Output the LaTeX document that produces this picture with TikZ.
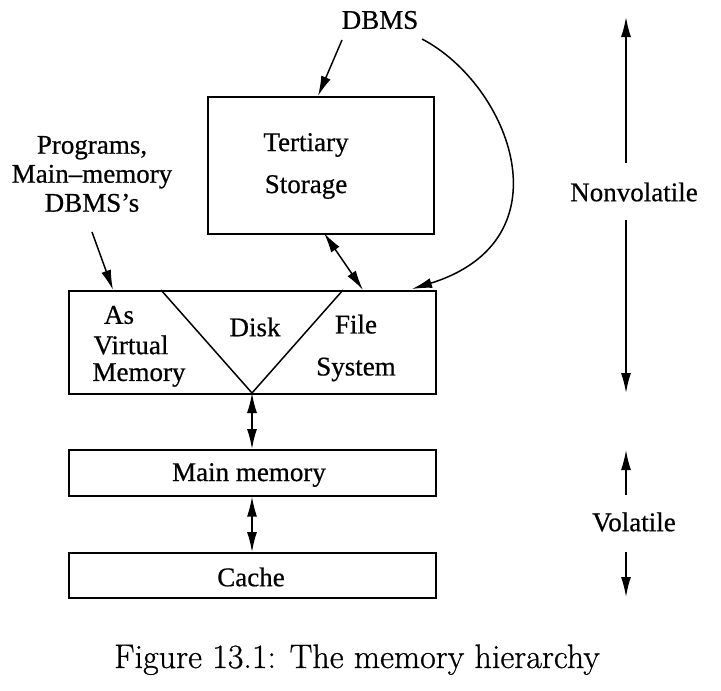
\documentclass[tikz,border=0pt]{standalone}
\usepackage{fontspec}
\newfontfamily\timesfont[FakeBold=0.6]{Liberation Serif}
\newfontfamily\capfont[FakeBold=0.7]{Latin Modern Roman}
\usetikzlibrary{arrows.meta,calc}
\begin{document}
\begin{tikzpicture}[x=1pt,y=1pt,
  lbl/.style={font=\timesfont\fontsize{27}{29}\selectfont, inner sep=0pt, align=center},
  wide/.style={font=\timesfont\fontsize{27}{42}\selectfont, inner sep=0pt, align=center},
  storebox/.style={draw, line width=1.6pt, inner sep=0pt, anchor=north west},
  conn/.style={line width=1.5pt, -{Latex[length=20pt,width=10pt]}},
  dconn/.style={line width=1.5pt, {Latex[length=20pt,width=10pt]}-{Latex[length=20pt,width=10pt]}}
]
\useasboundingbox (0,0) rectangle (721,-691);

% boxes
\node[storebox, minimum width=226pt, minimum height=137pt] (tert) at (207,-96) {};
\node[storebox, minimum width=367pt, minimum height=103pt] (disk) at (68,-290) {};
\node[storebox, minimum width=367pt, minimum height=46pt] (main) at (68,-449) {};
\node[storebox, minimum width=367pt, minimum height=45pt] (cache) at (68,-552) {};

% V inside disk box
\coordinate (vl) at (161,-290);
\coordinate (vb) at (252,-393);
\coordinate (vr) at (343,-290);
\draw[line width=1.5pt] (vl) -- (vb) -- (vr);

% texts
\node[wide] (terttext) at (306,-166) {Tertiary\\Storage};
\node[lbl] (dbms) at (380,-20) {DBMS};
\node[lbl] (progs) at (92,-174) {Programs,\\Main–memory\\DBMS’s};
\node[lbl] (as) at (119,-315) {As};
\node[lbl] (virt) at (131,-345) {Virtual};
\node[lbl] (mem) at (139,-375) {Memory};
\node[lbl] (disktext) at (255,-327) {Disk};
\node[wide] (fs) at (356,-348) {File\\System};
\node[lbl] (maintext) at (249,-475) {Main memory};
\node[lbl] (cachetext) at (251,-577) {Cache};
\node[lbl] (nonvol) at (634,-192) {Nonvolatile};
\node[lbl] (vol) at (634,-522) {Volatile};

% connectors
\coordinate (d1) at (342,-40);
\coordinate (d2) at (318,-96);
\draw[conn] (d1) -- (d2);
\coordinate (c1) at (422,-39);
\coordinate (c2) at (412,-289);
\draw[conn] (c1) .. controls (510,-85) and (570,-240) .. (c2);
\coordinate (p1) at (92,-232);
\coordinate (p2) at (113,-290);
\draw[conn] (p1) -- (p2);
\coordinate (t1) at (324,-233);
\coordinate (t2) at (363,-290);
\draw[dconn] (t1) -- (t2);
\draw[dconn] (vb) -- (main.north -| vb);
\draw[dconn] (main.south -| vb) -- (cache.north -| vb);

% right-hand scale
\coordinate (nv1) at (626,-163);
\coordinate (nv2) at (626,-17);
\coordinate (nv3) at (626,-220);
\coordinate (nv4) at (626,-393);
\coordinate (v1) at (626,-495);
\coordinate (v2) at (626,-450);
\coordinate (v3) at (626,-552);
\coordinate (v4) at (626,-597);
\draw[conn] (nv1) -- (nv2);
\draw[conn] (nv3) -- (nv4);
\draw[conn] (v1) -- (v2);
\draw[conn] (v3) -- (v4);

% caption
\node[font=\capfont\fontsize{34}{40}\selectfont, inner sep=0pt, anchor=base] (caption) at (357,-668) {Figure 13.1: The memory hierarchy};
\end{tikzpicture}
\end{document}
